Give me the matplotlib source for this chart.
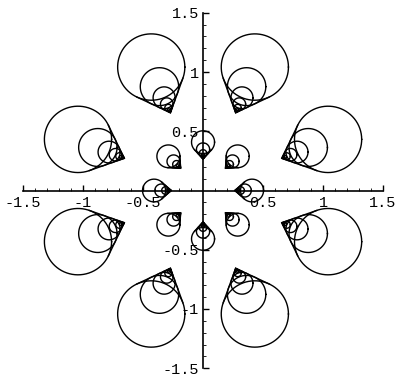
import numpy as np
import matplotlib.pyplot as plt
from matplotlib.ticker import FixedLocator, FuncFormatter

# outer ring: eight cones pointing outwards between the axes
outer_angles = [22.5, 67.5, 112.5, 157.5, 202.5, 247.5, 292.5, 337.5]
outer_apex = 0.71
outer_radii = [0.28, 0.16, 0.092, 0.053, 0.030, 0.017, 0.010]

# inner ring: eight smaller cones on the axes and diagonals
inner_angles = [0, 45, 90, 135, 180, 225, 270, 315]
inner_apex = 0.265
inner_radii = [0.096, 0.055, 0.032, 0.018, 0.010, 0.006]

# sine of the cone half-angle (circles sit tangent to both sides)
sin_half = 0.67

major_ticks = [-1.5, -1, -0.5, 0.5, 1, 1.5]

plt.rcParams['font.family'] = ['Liberation Mono', 'DejaVu Sans']

fig = plt.figure(figsize=(3.96, 3.77), dpi=100)
ax = fig.add_axes([0, 0, 1, 1])

t = np.linspace(0, 2 * np.pi, 300)
half = np.arcsin(sin_half)


def draw_cone(angle_deg, apex_dist, radii):
    th = np.radians(angle_deg)
    u = np.array([np.cos(th), np.sin(th)])
    apex = apex_dist * u
    for r in radii:
        c = apex + (r / sin_half) * u
        ax.plot(c[0] + r * np.cos(t), c[1] + r * np.sin(t), color='k', lw=1.0)
    # the two sides of the cone, up to the tangent points of the big circle
    L = (radii[0] / sin_half) * np.cos(half)
    for s in (-1, 1):
        d = np.array([np.cos(th + s * half), np.sin(th + s * half)])
        ax.plot([apex[0], apex[0] + L * d[0]], [apex[1], apex[1] + L * d[1]],
                color='k', lw=1.0)


for a in outer_angles:
    draw_cone(a, outer_apex, outer_radii)
for a in inner_angles:
    draw_cone(a, inner_apex, inner_radii)

ax.set_xlim(-1.692, 1.608)
ax.set_ylim(-1.574, 1.608)

for side in ('top', 'right'):
    ax.spines[side].set_visible(False)
for side in ('left', 'bottom'):
    ax.spines[side].set_position(('data', 0))
    ax.spines[side].set_bounds(-1.5, 1.5)
    ax.spines[side].set_linewidth(1.2)

minor = [round(v / 10, 1) for v in range(-15, 16) if v % 5 != 0]
fmt = FuncFormatter(lambda v, p: ('%g' % v))
for axis in (ax.xaxis, ax.yaxis):
    axis.set_major_locator(FixedLocator(major_ticks))
    axis.set_minor_locator(FixedLocator(minor))
    axis.set_major_formatter(fmt)

ax.tick_params(which='major', direction='in', length=4, width=1.0,
               labelsize=11, pad=3)
ax.tick_params(which='minor', direction='in', length=2, width=0.6)
ax.tick_params(axis='x', pad=4)

fig.savefig('out.png', dpi=100)
